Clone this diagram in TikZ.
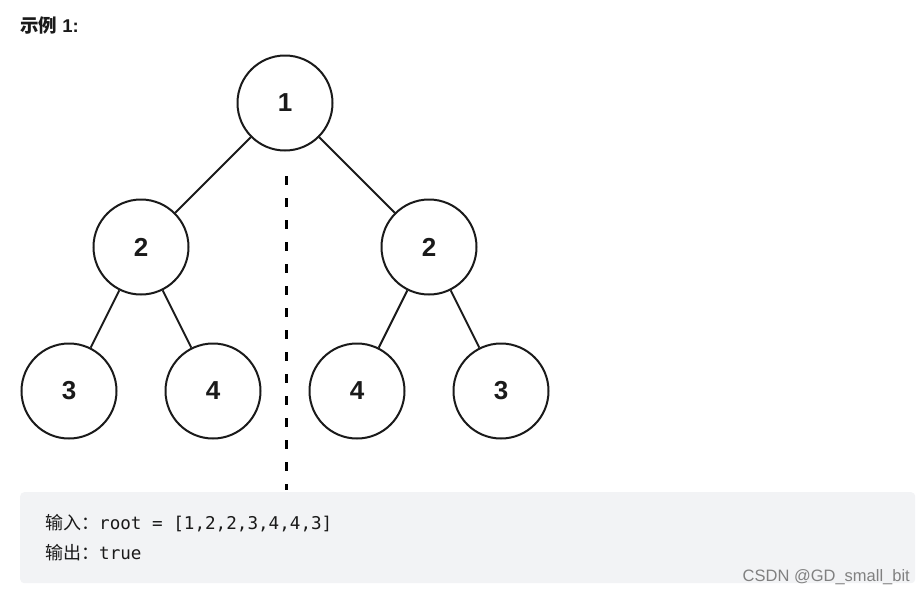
\documentclass[tikz,border=0pt]{standalone}
\usepackage{fontspec}
\setmainfont{Liberation Sans}
\setmonofont{DejaVu Sans Mono}
\newfontfamily\cjk{Noto Sans CJK SC}
\definecolor{boxgray}{HTML}{F2F3F5}
\definecolor{inkc}{HTML}{1A1A1A}
\begin{document}
\begin{tikzpicture}[x=1pt,y=-1pt,
  tn/.style={circle,draw=inkc,line width=2pt,minimum size=95pt,inner sep=0pt,font=\fontsize{26}{28}\selectfont\bfseries,text=inkc},
  edge/.style={draw=inkc,line width=2pt},
  mirror/.style={draw=black,line width=3pt,dash pattern=on 9pt off 13pt}]
\useasboundingbox (0,0) rectangle (924,595);
\node[anchor=west,font=\fontsize{18.5}{20}\selectfont\bfseries,text=inkc,inner sep=0pt] (title) at (20,25) {{\cjk\bfseries 示例} 1:};
\node[tn] (r) at (285,103) {1};
\node[tn] (a) at (141,247) {2};
\node[tn] (b) at (429,247) {2};
\node[tn] (a1) at (69,391) {3};
\node[tn] (a2) at (213,391) {4};
\node[tn] (b1) at (357,391) {4};
\node[tn] (b2) at (501,391) {3};
\draw[edge] (r) -- (a);
\draw[edge] (r) -- (b);
\draw[edge] (a) -- (a1);
\draw[edge] (a) -- (a2);
\draw[edge] (b) -- (b1);
\draw[edge] (b) -- (b2);
\coordinate (m1) at (286,176);
\coordinate (m2) at (286,490);
\draw[mirror] (m1) -- (m2);
\node[fill=boxgray,rounded corners=4pt,minimum width=895pt,minimum height=91pt,anchor=north west,inner sep=0pt] (box) at (20,492) {};
\node[anchor=west,font=\fontsize{17.6}{20}\selectfont\ttfamily,text=inkc,inner sep=0pt] (in) at (45,523) {{\cjk\fontsize{18}{20}\selectfont 输入：}root = [1,2,2,3,4,4,3]};
\node[anchor=west,font=\fontsize{17.6}{20}\selectfont\ttfamily,text=inkc,inner sep=0pt] (out) at (45,553) {{\cjk\fontsize{18}{20}\selectfont 输出：}true};
\node[anchor=east,font=\fontsize{16.5}{18}\selectfont,text=black!50,inner sep=0pt] (wm) at (910,577) {CSDN @GD\_small\_bit};
\end{tikzpicture}
\end{document}
